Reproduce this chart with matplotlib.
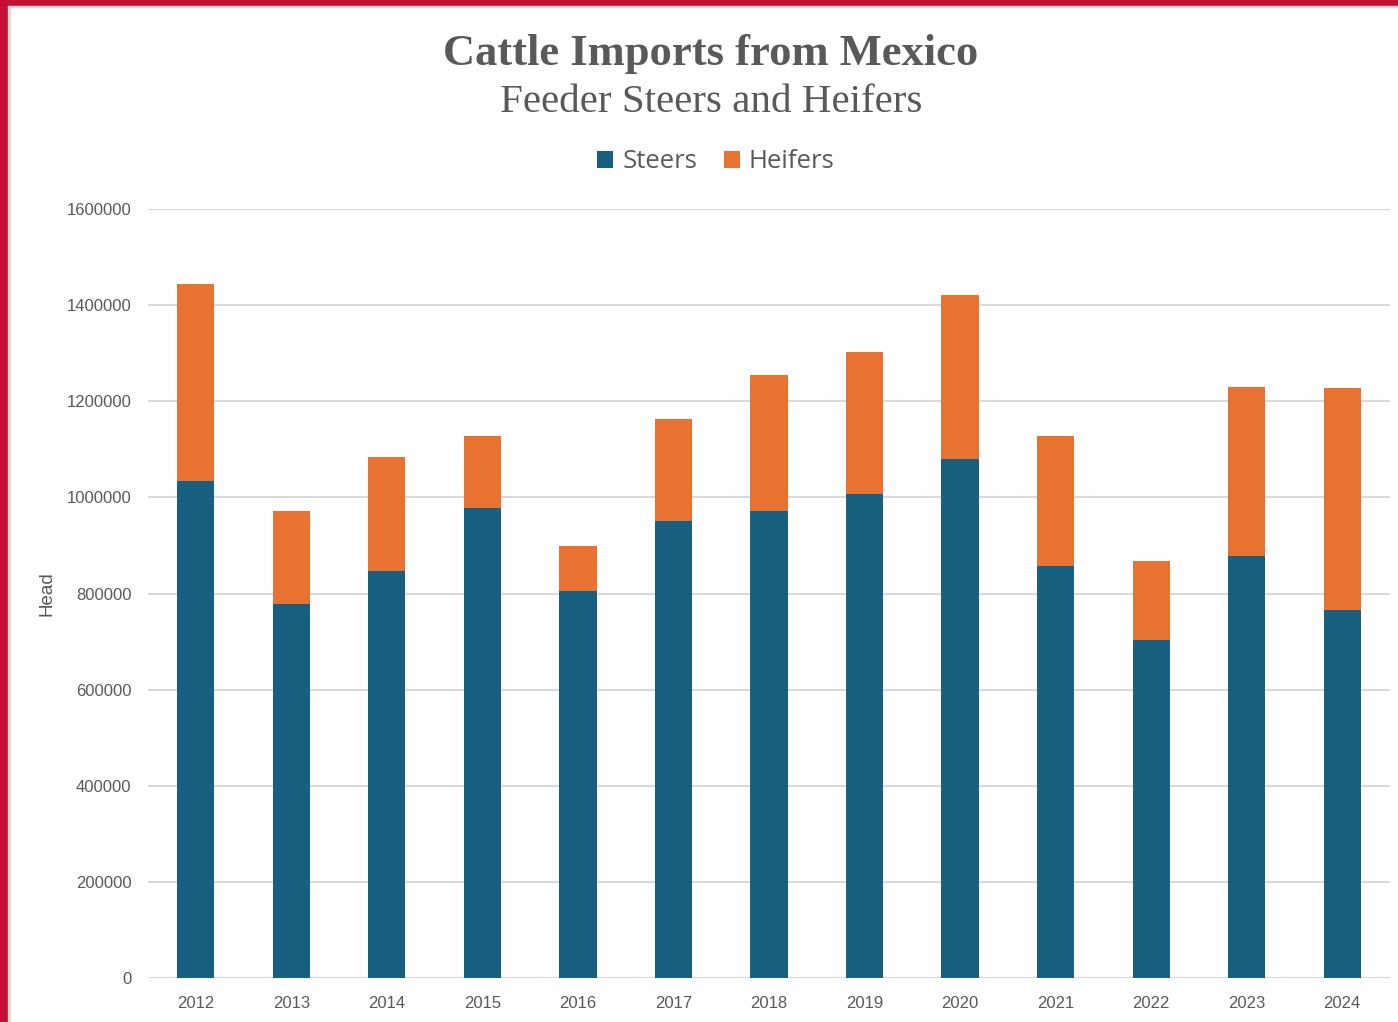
import matplotlib.pyplot as plt
from matplotlib.patches import Rectangle
import numpy as np

# data
years = ["2012", "2013", "2014", "2015", "2016", "2017", "2018",
         "2019", "2020", "2021", "2022", "2023", "2024"]
steers = [1034000, 778000, 847000, 978000, 805000, 951000, 972000,
          1007000, 1080000, 857000, 703000, 878000, 766000]
totals = [1444000, 972000, 1084000, 1128000, 899000, 1163000, 1255000,
          1303000, 1421000, 1128000, 868000, 1230000, 1228000]
heifers = [t - s for t, s in zip(totals, steers)]

STEER_COL = "#17607F"
HEIFER_COL = "#E87232"
TEXT_COL = "#595959"
GRID_COL = "#D9D9D9"

W, H = 1398, 1022
fig = plt.figure(figsize=(W / 100, H / 100), dpi=100)

# red frame (top and left edges of the screenshot)
fig.patches.append(Rectangle((0, 1 - 6 / H), 1, 6 / H, transform=fig.transFigure,
                             color="#C41034", zorder=10))
fig.patches.append(Rectangle((0, 0), 8 / W, 1, transform=fig.transFigure,
                             color="#C41034", zorder=10))
fig.patches.append(Rectangle((8 / W, 0), 1.5 / W, 1 - 6 / H, transform=fig.transFigure,
                             color="#DCDCDC", zorder=10))
fig.patches.append(Rectangle((8 / W, 1 - 7.5 / H), 1, 1.5 / H, transform=fig.transFigure,
                             color="#DCDCDC", zorder=10))

ax = fig.add_axes([148 / W, 1 - 978 / H, (1390 - 148) / W, (978 - 209) / H])

x = np.arange(len(years))
ax.bar(x, steers, width=0.39, color=STEER_COL, label="Steers", zorder=3)
ax.bar(x, heifers, width=0.39, bottom=steers, color=HEIFER_COL, label="Heifers", zorder=3)

ax.set_xlim(-0.5, len(years) - 0.5)
ax.set_ylim(0, 1600000)
ax.set_yticks(np.arange(0, 1600001, 200000))
ax.set_yticklabels([str(v) for v in range(0, 1600001, 200000)])
ax.set_xticks(x)
ax.set_xticklabels(years)
ax.yaxis.grid(True, color=GRID_COL, linewidth=1.5, zorder=0)
ax.set_axisbelow(True)
for s in ax.spines.values():
    s.set_visible(False)
ax.tick_params(length=0, labelsize=12, labelcolor=TEXT_COL)
ax.tick_params(axis="y", pad=12)
ax.tick_params(axis="x", pad=13)
for lbl in ax.get_xticklabels() + ax.get_yticklabels():
    lbl.set_fontfamily("Liberation Sans")

fig.text(47 / W, 1 - 594 / H, "Head", rotation=90, ha="center", va="center",
         fontsize=13.5, color=TEXT_COL, family="Liberation Sans")

fig.text(711 / W, 1 - 54 / H, "Cattle Imports from Mexico", ha="center", va="center",
         fontsize=32, fontweight="bold", color=TEXT_COL, family="Liberation Serif")
fig.text(711 / W, 1 - 103 / H, "Feeder Steers and Heifers", ha="center", va="center",
         fontsize=29.5, color=TEXT_COL, family="Liberation Serif")

leg = fig.legend(loc="center", bbox_to_anchor=(716 / W, 1 - 162 / H), ncol=2,
                 frameon=False, handlelength=0.62, handleheight=0.62,
                 handletextpad=0.35, columnspacing=1.05,
                 prop={"family": "Open Sans", "size": 18.5})
for t in leg.get_texts():
    t.set_color(TEXT_COL)

fig.savefig("out.png", dpi=100)
